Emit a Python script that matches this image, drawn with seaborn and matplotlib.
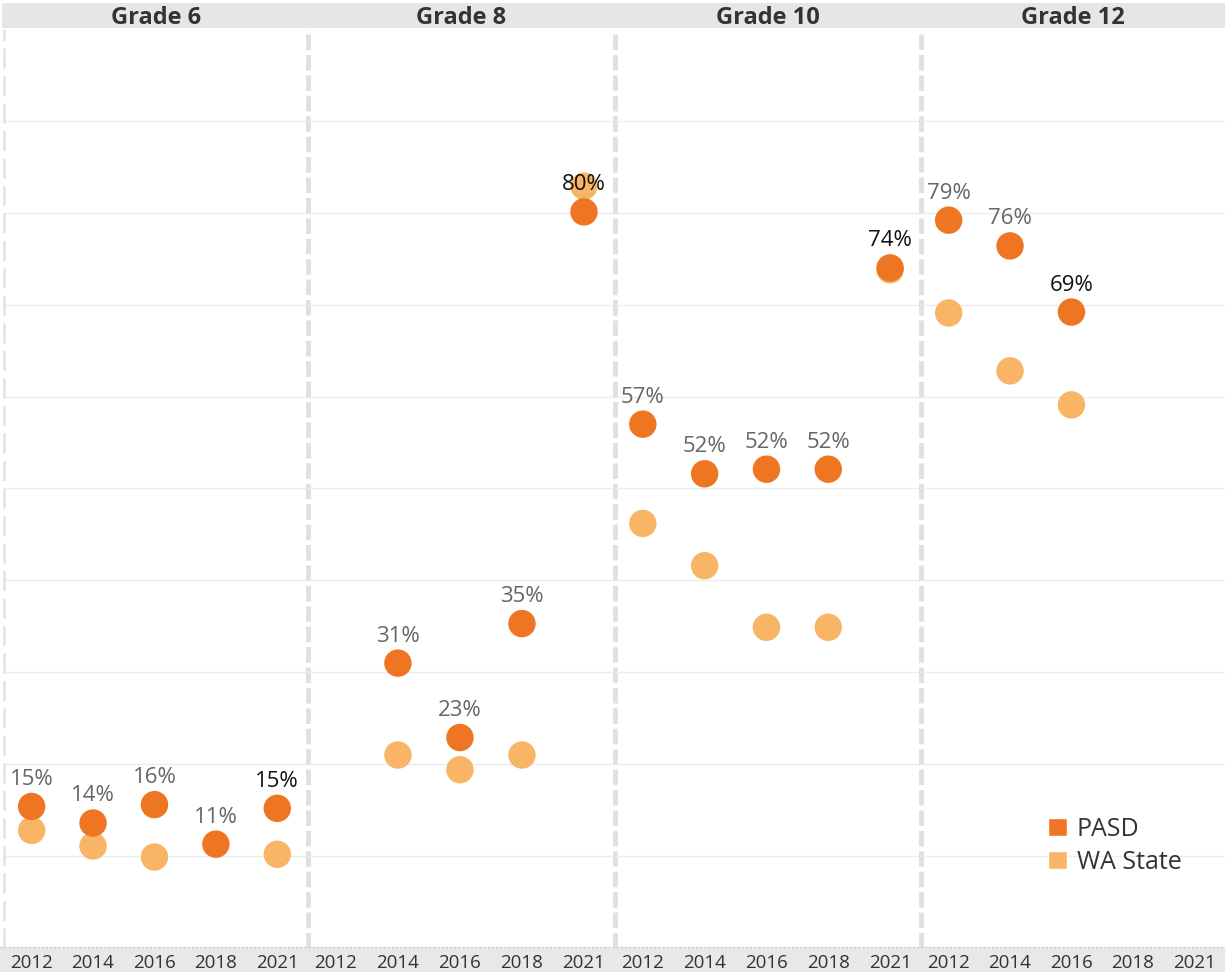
import numpy as np
import pandas as pd
import seaborn as sns
import matplotlib.pyplot as plt
from matplotlib.patches import Rectangle, Patch

# values (percent)
grades = ["Grade 6", "Grade 8", "Grade 10", "Grade 12"]
years = ["2012", "2014", "2016", "2018", "2021"]

pasd_g6 = [15.4, 13.6, 15.6, 11.3, 15.2]
pasd_g8 = [np.nan, 31.0, 22.9, 35.3, 80.1]
pasd_g10 = [57.0, 51.6, 52.1, 52.1, 74.0]
pasd_g12 = [79.2, 76.4, 69.2, np.nan, np.nan]

wa_g6 = [12.8, 11.1, 9.9, np.nan, 10.2]
wa_g8 = [np.nan, 21.0, 19.4, 21.0, 82.9]
wa_g10 = [46.2, 41.6, 34.9, 34.9, 73.8]
wa_g12 = [69.1, 62.8, 59.1, np.nan, np.nan]

series_names = ["WA State", "PASD"]
colors = {"PASD": "#EE7623", "WA State": "#F8B566"}

rows = []
for name, lists in [("WA State", [wa_g6, wa_g8, wa_g10, wa_g12]),
                    ("PASD", [pasd_g6, pasd_g8, pasd_g10, pasd_g12])]:
    for g, vals in zip(grades, lists):
        for i, v in enumerate(vals):
            rows.append({"series": name, "grade": g, "year": years[i], "pos": i, "value": v})
df = pd.DataFrame(rows).dropna()

sns.set_style("white")
plt.rcParams["font.family"] = ["Open Sans", "DejaVu Sans"]

W, H = 1225, 972
fig = plt.figure(figsize=(W / 100, H / 100), dpi=100)

# grey header band and footer band
fig.patches.append(Rectangle((2 / W, 1 - 28 / H), 1, 25 / H, transform=fig.transFigure,
                             facecolor="#e6e6e6", edgecolor="none", zorder=-1))
fig.patches.append(Rectangle((0, 0), 1, 25 / H, transform=fig.transFigure,
                             facecolor="#e8e8e8", edgecolor="none", zorder=-1))
fig.add_artist(plt.Line2D([0, 1], [25 / H, 25 / H], transform=fig.transFigure,
                          color="#c4c4c4", lw=1, ls=(0, (1, 2))))

top_px, bot_px = 29, 948
edges = [4, 308, 615, 921, 1225]

for k, g in enumerate(grades):
    x0, x1 = edges[k], edges[k + 1]
    ax = fig.add_axes([x0 / W, 1 - bot_px / H, (x1 - x0) / W, (bot_px - top_px) / H])
    ax.set_facecolor("none")
    sub = df[df["grade"] == g]
    sns.scatterplot(data=sub, x="pos", y="value", hue="series", hue_order=series_names,
                    palette=colors, s=390, linewidth=0, legend=False, ax=ax, zorder=3)

    # labels on PASD points, last one in black
    p = sub[sub["series"] == "PASD"]
    last = p["pos"].max()
    for _, r in p.iterrows():
        ax.annotate(f"{r['value']:.0f}%", (r["pos"], r["value"]), xytext=(0, 15.5),
                    textcoords="offset points", ha="center", va="baseline", fontsize=16,
                    color="#111111" if r["pos"] == last else "#666666", zorder=4)

    ax.set_xlim(-0.45, 4.5)
    ax.set_ylim(0, 100)
    ax.set_yticks(range(10, 100, 10))
    ax.yaxis.grid(True, color="#ececec", lw=1)
    ax.set_axisbelow(True)
    ax.tick_params(axis="y", left=False, labelleft=False)
    ax.set_xticks(range(len(years)))
    ax.set_xticklabels(years, va="center", fontsize=13.5, color="#333333")
    ax.tick_params(axis="x", length=0, pad=10.5)
    ax.set_xlabel("")
    ax.set_ylabel("")
    for s in ax.spines.values():
        s.set_visible(False)

    if k == 0:
        ax.axvline(-0.45, color="#e2e2e2", lw=1.8, ls=(0, (8, 3)), clip_on=False)
    if k < 3:
        ax.axvline(4.5, color="#e0e0e0", lw=3.5, ls=(0, (3.2, 1.0)), clip_on=False, zorder=1)

    ax.text(0.5, 1 + 11 / (bot_px - top_px), g, transform=ax.transAxes, ha="center",
            va="center", fontsize=17, fontweight="bold", color="#333333")

handles = [Patch(facecolor=colors["PASD"], label="PASD"),
           Patch(facecolor=colors["WA State"], label="WA State")]
fig.legend(handles=handles, loc="upper left", bbox_to_anchor=(1048 / W, 1 - 817 / H),
           frameon=False, fontsize=18, handlelength=0.75, handleheight=0.75,
           handletextpad=0.4, labelspacing=0.3, borderpad=0, borderaxespad=0,
           labelcolor="#333333")

fig.savefig("out.png", dpi=100)
